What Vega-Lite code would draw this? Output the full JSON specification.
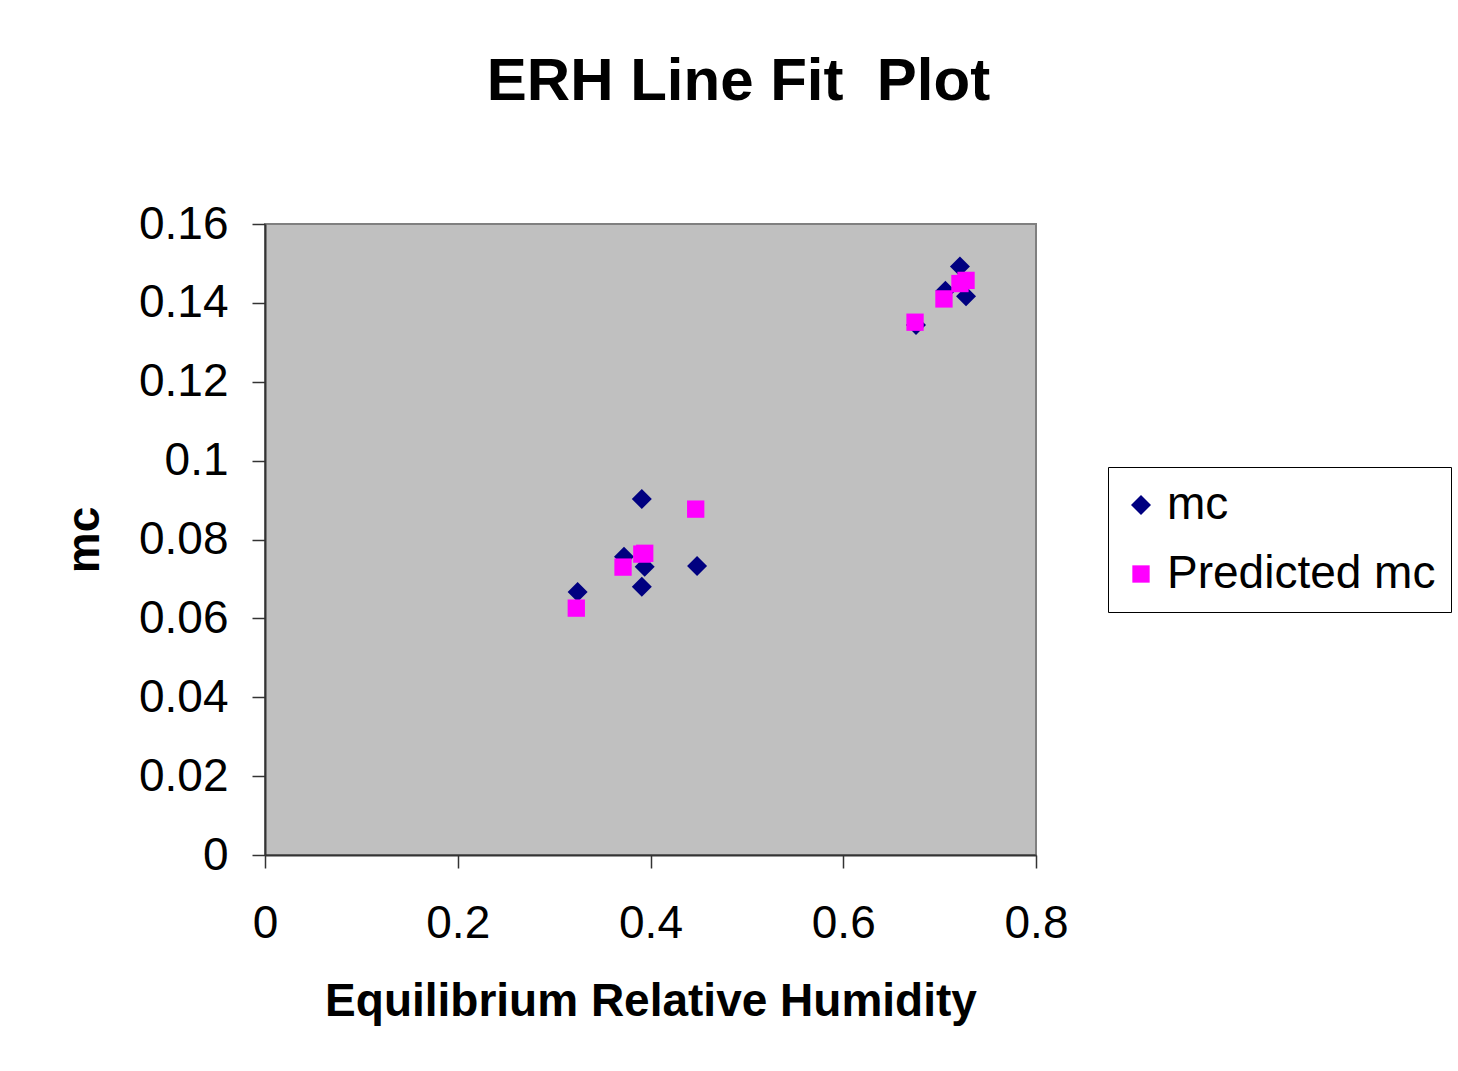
{
  "$schema": "https://vega.github.io/schema/vega-lite/v6.json",
  "width": 771,
  "height": 631,
  "autosize": "none",
  "padding": {"left": 265, "top": 224, "right": 422, "bottom": 216},
  "background": "white",
  "title": {"text": "ERH Line Fit\u00a0 Plot", "font": "Liberation Sans", "fontSize": 60, "fontWeight": "bold", "color": "black", "anchor": "middle", "dx": 88, "offset": 88},
  "data": {
    "values": [
      {"erh": 0.391, "value": 0.0903, "series": "mc"},
      {"erh": 0.3725, "value": 0.0756, "series": "mc"},
      {"erh": 0.394, "value": 0.0731, "series": "mc"},
      {"erh": 0.391, "value": 0.068, "series": "mc"},
      {"erh": 0.4483, "value": 0.0733, "series": "mc"},
      {"erh": 0.3244, "value": 0.0667, "series": "mc"},
      {"erh": 0.7211, "value": 0.1492, "series": "mc"},
      {"erh": 0.7274, "value": 0.1417, "series": "mc"},
      {"erh": 0.706, "value": 0.1431, "series": "mc"},
      {"erh": 0.6755, "value": 0.1344, "series": "mc"},
      {"erh": 0.391, "value": 0.0763, "series": "Predicted mc"},
      {"erh": 0.394, "value": 0.0765, "series": "Predicted mc"},
      {"erh": 0.3715, "value": 0.073, "series": "Predicted mc"},
      {"erh": 0.4469, "value": 0.0877, "series": "Predicted mc"},
      {"erh": 0.323, "value": 0.0626, "series": "Predicted mc"},
      {"erh": 0.7211, "value": 0.1449, "series": "Predicted mc"},
      {"erh": 0.7274, "value": 0.1457, "series": "Predicted mc"},
      {"erh": 0.7045, "value": 0.141, "series": "Predicted mc"},
      {"erh": 0.6745, "value": 0.1351, "series": "Predicted mc"}
    ]
  },
  "mark": {"type": "point", "filled": true, "opacity": 1, "strokeWidth": 0},
  "encoding": {
    "x": {
      "field": "erh", "type": "quantitative",
      "scale": {"domain": [0, 0.8], "nice": false, "zero": false},
      "axis": {
        "title": "Equilibrium Relative Humidity", "values": [0, 0.2, 0.4, 0.6, 0.8], "format": "~g",
        "grid": false, "domainColor": "#333333", "domainWidth": 2, "tickColor": "#333333", "tickWidth": 1.5, "tickSize": 13,
        "labelFont": "Liberation Sans", "labelFontSize": 46, "labelColor": "black", "labelPadding": 33, "labelFlush": false,
        "titleFont": "Liberation Sans", "titleFontSize": 46, "titleFontWeight": "bold", "titleColor": "black", "titlePadding": 33
      }
    },
    "y": {
      "field": "value", "type": "quantitative",
      "scale": {"domain": [0, 0.16], "nice": false, "zero": false},
      "axis": {
        "title": "mc", "values": [0, 0.02, 0.04, 0.06, 0.08, 0.1, 0.12, 0.14, 0.16], "format": "~g",
        "grid": false, "domainColor": "#333333", "domainWidth": 2, "tickColor": "#333333", "tickWidth": 1.5, "tickSize": 13,
        "labelFont": "Liberation Sans", "labelFontSize": 46, "labelColor": "black", "labelPadding": 24, "labelFlush": false,
        "titleFont": "Liberation Sans", "titleFontSize": 46, "titleFontWeight": "bold", "titleColor": "black", "titlePadding": 30
      }
    },
    "shape": {
      "field": "series", "type": "nominal",
      "scale": {"domain": ["mc", "Predicted mc"], "range": ["diamond", "square"]},
      "legend": null
    },
    "size": {
      "field": "series", "type": "nominal",
      "scale": {"domain": ["mc", "Predicted mc"], "range": [400, 300]},
      "legend": null
    },
    "color": {
      "field": "series", "type": "nominal",
      "scale": {"domain": ["mc", "Predicted mc"], "range": ["#000080", "#ff00ff"]},
      "legend": {
        "title": null, "orient": "none", "legendX": 843, "legendY": 243,
        "strokeColor": "black", "fillColor": "white", "padding": 15, "rowPadding": 23,
        "symbolType": "diamond", "symbolSize": 250, "symbolOffset": -5, "labelOffset": 3, "labelLimit": 500,
        "labelFont": "Liberation Sans", "labelFontSize": 46, "labelColor": "black"
      }
    }
  },
  "config": {
    "view": {"fill": "#c0c0c0", "stroke": "#808080", "strokeWidth": 2}
  }
}
